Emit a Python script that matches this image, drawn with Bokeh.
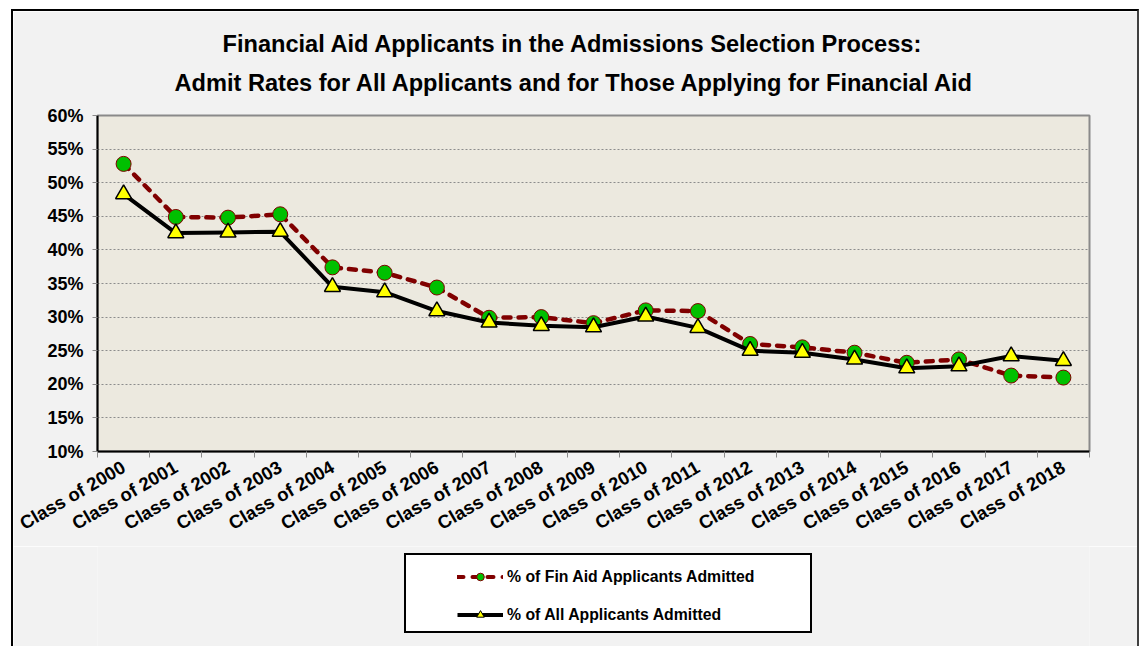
from math import pi
from bokeh.plotting import figure
from bokeh.layouts import column
from bokeh.models import (ColumnDataSource, Range1d, FixedTicker, PrintfTickFormatter,
                          CustomJSTickFormatter, Title, Legend, LegendItem)
from bokeh.embed import file_html
from bokeh.resources import INLINE

# ---------------- data ----------------
classes = ["Class of 2000", "Class of 2001", "Class of 2002", "Class of 2003", "Class of 2004",
           "Class of 2005", "Class of 2006", "Class of 2007", "Class of 2008", "Class of 2009",
           "Class of 2010", "Class of 2011", "Class of 2012", "Class of 2013", "Class of 2014",
           "Class of 2015", "Class of 2016", "Class of 2017", "Class of 2018"]
fin_aid_admitted = [52.8, 44.9, 44.8, 45.3, 37.4, 36.6, 34.4, 29.9, 30.0, 29.1,
                    31.0, 30.9, 26.0, 25.5, 24.7, 23.2, 23.7, 21.3, 21.0]
all_admitted = [48.3, 42.5, 42.6, 42.7, 34.5, 33.7, 30.9, 29.2, 28.7, 28.5,
                30.1, 28.4, 25.0, 24.7, 23.7, 22.4, 22.7, 24.2, 23.5]
y_ticks = [10, 15, 20, 25, 30, 35, 40, 45, 50, 55, 60]
title_lines = ["Financial Aid Applicants in the Admissions Selection Process:",
               "Admit Rates for All Applicants and for Those Applying for Financial Aid"]
series_labels = ["% of Fin Aid Applicants Admitted", "% of All Applicants Admitted"]

FONT = "Liberation Sans"
BG = "#F2F2F2"

n = len(classes)
xpos = [i + 0.5 for i in range(n)]
src = ColumnDataSource(dict(x=xpos, fin=fin_aid_admitted, allapp=all_admitted))

# ---------------- main chart ----------------
p = figure(width=1124, height=535, output_backend="svg", toolbar_location=None, title=None,
           x_range=Range1d(0, n), y_range=Range1d(y_ticks[0], y_ticks[-1]),
           min_border_left=84, min_border_right=52, min_border_top=104, min_border_bottom=97)
p.margin = (9, 0, 0, 11)
p.styles = {"border-top": "2px solid black", "border-left": "2px solid black",
            "border-right": "2px solid #404040", "box-sizing": "content-box"}
p.background_fill_color = "#ECE9DF"
p.border_fill_color = BG
p.outline_line_color = "#8A8A8A"
p.outline_line_width = 2

p.xgrid.visible = False
p.ygrid.ticker = FixedTicker(ticks=y_ticks)
p.ygrid.grid_line_color = "#8C8C8C"
p.ygrid.grid_line_dash = "2 2"
p.ygrid.grid_line_width = 1

ya = p.yaxis[0]
ya.ticker = FixedTicker(ticks=y_ticks)
ya.formatter = PrintfTickFormatter(format="%d%%")
ya.axis_line_color = "black"
ya.axis_line_width = 2
ya.major_tick_line_color = "#8A8A8A"
ya.major_tick_out = 5
ya.major_tick_in = 0
ya.minor_tick_line_color = None
ya.major_label_text_font = FONT
ya.major_label_text_font_style = "bold"
ya.major_label_text_font_size = "18px"
ya.major_label_text_color = "black"
ya.major_label_standoff = 9

xa = p.xaxis[0]
xa.ticker = FixedTicker(ticks=xpos, minor_ticks=list(range(n + 1)))
xa.formatter = CustomJSTickFormatter(args=dict(labels=classes),
                                     code="return labels[Math.floor(tick)]")
xa.axis_line_color = "black"
xa.axis_line_width = 2
xa.major_tick_out = 0
xa.major_tick_in = 0
xa.minor_tick_out = 6
xa.minor_tick_in = 0
xa.minor_tick_line_color = "#8A8A8A"
xa.major_label_orientation = pi / 6
xa.major_label_text_font = FONT
xa.major_label_text_font_style = "bold"
xa.major_label_text_font_size = "18.5px"
xa.major_label_text_color = "black"
xa.major_label_standoff = 8

# series 1: financial aid applicants
p.line("x", "fin", source=src, line_color="#800000", line_width=4.5,
       line_dash="7 8", line_cap="round")
p.scatter("x", "fin", source=src, marker="circle", size=15,
          fill_color="#00C000", line_color="#800000", line_width=1)
# series 2: all applicants
p.line("x", "allapp", source=src, line_color="black", line_width=4)
p.scatter("x", "allapp", source=src, marker="triangle", size=16,
          fill_color="#FFFF00", line_color="black", line_width=1.5)

# title: stacked outward from the plot (spacer, line 2, spacer, line 1)
def title(text, size, offset=0):
    return Title(text=text, align="left", offset=offset, standoff=0,
                 text_font=FONT, text_font_style="bold", text_font_size=size,
                 text_color="black")

p.add_layout(title(" ", "16.5px"), "above")
p.add_layout(title(title_lines[1], "23.6px", 77), "above")
p.add_layout(title(" ", "8px"), "above")
p.add_layout(title(title_lines[0], "23.6px", 125), "above")

# ---------------- legend strip (same chart area, below the axis) ----------------
q = figure(width=1124, height=100, output_backend="svg", toolbar_location=None, title=None,
           x_range=Range1d(0, 1), y_range=Range1d(0, 1),
           x_axis_location=None, y_axis_location=None, min_border=0)
q.margin = (0, 0, 0, 11)
q.styles = {"border-left": "2px solid black", "border-right": "2px solid #404040",
            "box-sizing": "content-box"}
q.grid.visible = False
q.outline_line_color = None
q.background_fill_color = BG
q.border_fill_color = BG

# legend proxies: one undefined (NaN) point each, so nothing shows in the strip itself
proxy = ColumnDataSource(dict(x=[float("nan")], y=[float("nan")]))
l1 = q.line("x", "y", source=proxy, line_color="#800000", line_width=4,
            line_dash="6 9", line_cap="round")
m1 = q.scatter("x", "y", source=proxy, marker="circle", size=10,
               fill_color="#00C000", line_color="#800000", line_width=1)
l2 = q.line("x", "y", source=proxy, line_color="black", line_width=4)
m2 = q.scatter("x", "y", source=proxy, marker="triangle", size=10,
               fill_color="#FFFF00", line_color="black", line_width=1)
dummy = q.line("x", "y", source=proxy, line_alpha=0)

# frame of the strip is aligned with the main plot frame (left edge at page x=97)
box_legend = Legend(items=[LegendItem(label=" ", renderers=[dummy])],
                    location=(307, 13), padding=0, margin=0, spacing=0,
                    glyph_width=1, glyph_height=76, label_width=403, label_height=76,
                    label_standoff=0, background_fill_color="white", background_fill_alpha=1,
                    border_line_color="black", border_line_width=2, border_line_alpha=1)
q.add_layout(box_legend)

legend = Legend(items=[LegendItem(label=series_labels[0], renderers=[l1, m1]),
                       LegendItem(label=series_labels[1], renderers=[l2, m2])],
                location=(360, 22), padding=0, margin=0, spacing=19,
                glyph_width=46, glyph_height=19, label_height=19, label_standoff=4,
                background_fill_alpha=0, border_line_alpha=0,
                label_text_font=FONT, label_text_font_style="bold",
                label_text_font_size="15.8px", label_text_color="black")
q.add_layout(legend)

layout = column(p, q, spacing=0)
open("out.html", "w").write(file_html(layout, INLINE))
